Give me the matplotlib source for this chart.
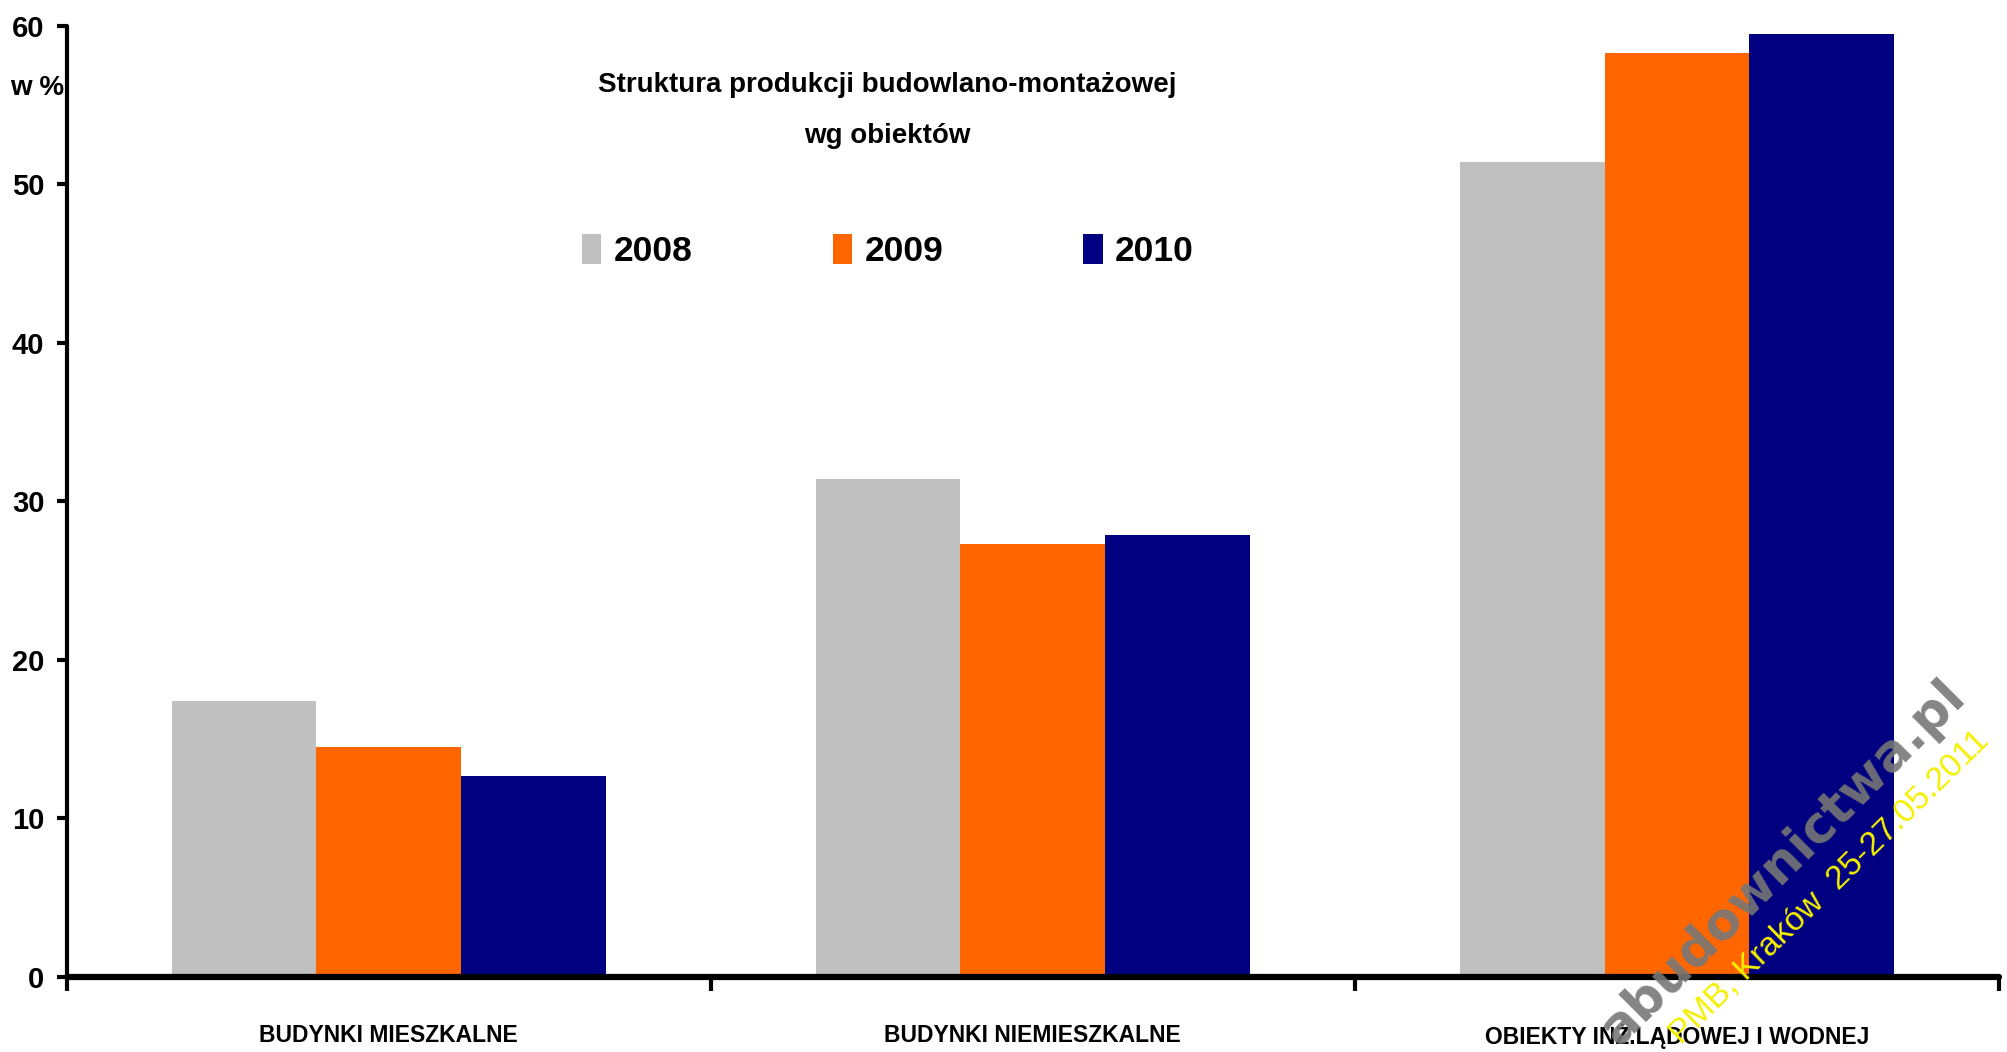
import matplotlib
matplotlib.use("Agg")
import matplotlib.pyplot as plt
import numpy as np

categories = ["BUDYNKI MIESZKALNE", "BUDYNKI NIEMIESZKALNE", "OBIEKTY INŻ.LĄDOWEJ I WODNEJ"]
years = ["2008", "2009", "2010"]
values_2008 = [17.4, 31.4, 51.4]
values_2009 = [14.5, 27.3, 58.3]
values_2010 = [12.7, 27.9, 59.5]
series = [values_2008, values_2009, values_2010]
colors = ["#C0C0C0", "#FF6600", "#000080"]
yticks = [0, 10, 20, 30, 40, 50, 60]

FONT = ["Liberation Sans Narrow", "Liberation Sans", "DejaVu Sans"]
plt.rcParams["font.family"] = FONT

W, H = 2007, 1052
fig = plt.figure(figsize=(W / 100, H / 100), dpi=100)
ax = fig.add_axes([66.5 / W, 1 - 977 / H, (1999 - 66.5) / W, (977 - 25.6) / H])

x = np.arange(len(categories))
bw = 0.2245
for i, (vals, c, lab) in enumerate(zip(series, colors, years)):
    ax.bar(x + (i - 1) * bw, vals, width=bw, color=c, label=lab, zorder=2, linewidth=0)

ax.set_xlim(-0.5, len(categories) - 0.5)
ax.set_ylim(0, 60)
ax.set_yticks(yticks)
ax.set_yticklabels([str(v) for v in yticks], fontsize=21, fontweight="bold")
ax.tick_params(axis="y", length=7, width=3, pad=9, direction="out")

ax.set_xticks(np.arange(-0.5, len(categories), 1.0))
ax.set_xticklabels([])
ax.tick_params(axis="x", which="major", length=10, width=3, direction="out")
ax.set_xticks(x, minor=True)
ax.set_xticklabels(categories, minor=True, fontsize=16.5, fontweight="bold")
ax.tick_params(axis="x", which="minor", length=0, pad=34)

for s in ["top", "right"]:
    ax.spines[s].set_visible(False)
ax.spines["left"].set_linewidth(3)
ax.spines["bottom"].set_linewidth(4.5)
for s in ["left", "bottom"]:
    ax.spines[s].set_zorder(5)
    ax.spines[s].set_capstyle("round")

fig.text(37 / W, 1 - 88 / H, "w %", ha="center", va="center", fontsize=20, fontweight="bold")

fig.text(887 / W, 1 - 84.5 / H, "Struktura produkcji budowlano-montażowej", ha="center", va="center",
         fontsize=20, fontweight="bold")
fig.text(887 / W, 1 - 136 / H, "wg obiektów", ha="center", va="center", fontsize=20, fontweight="bold")

leg = fig.legend(loc="center", bbox_to_anchor=(888 / W, 1 - 251 / H), ncol=3, frameon=False,
                 prop={"family": FONT, "weight": "bold", "size": 25.5},
                 handlelength=0.55, handleheight=0.95, handletextpad=0.35, columnspacing=3.95)

# watermark
fig.text(1968 / W, 1 - 698 / H, "abudownictwa.pl", rotation=45, rotation_mode="anchor",
         ha="right", va="baseline", fontsize=37, fontweight="heavy", color="#777777",
         family=["DejaVu Sans"], alpha=0.9, zorder=10)
fig.text(1829 / W, 1 - 887 / H, "PMB, Kraków  25-27.05.2011", rotation=44.4, rotation_mode="anchor",
         ha="center", va="center", fontsize=24, color="#F5F000", family=["Liberation Sans", "DejaVu Sans"],
         zorder=11)

fig.savefig("out.png", dpi=100)
